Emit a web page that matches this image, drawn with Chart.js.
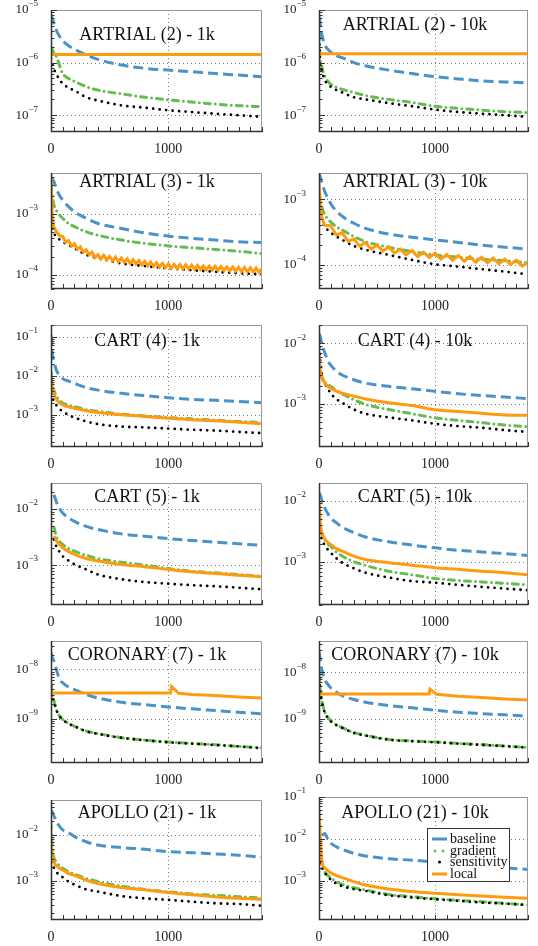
<!DOCTYPE html>
<html>
<head>
<meta charset="utf-8">
<script src="https://cdn.jsdelivr.net/npm/chart.js@4.4.1/dist/chart.umd.min.js"></script>
<style>
  body { margin: 0; background: #fff; width: 538px; height: 946px; position: relative; overflow: hidden; }
  canvas { position: absolute; }
</style>
</head>
<body>
<script>
const iters = [0, 10, 25, 50, 75, 100, 150, 200, 300, 400, 600, 800, 1000, 1200, 1400, 1600, 1800];
const flatIters = [0, 1800];
const sawIters25 = [0, 10, 25, 50, 75, 100, 125, 150, 175, 200, 225, 250, 275, 300, 325, 350, 375, 400,
  425, 450, 475, 500, 525, 550, 575, 600, 625, 650, 675, 700, 725, 750, 775, 800, 825, 850, 875, 900,
  925, 950, 975, 1000, 1025, 1050, 1075, 1100, 1125, 1150, 1175, 1200, 1225, 1250, 1275, 1300, 1325,
  1350, 1375, 1400, 1425, 1450, 1475, 1500, 1525, 1550, 1575, 1600, 1625, 1650, 1675, 1700, 1725,
  1750, 1775, 1800];
const sawIters50 = [0, 10, 25, 50, 100, 150, 200, 250, 300, 350, 400, 450, 500, 550, 600, 650, 700, 750,
  800, 850, 900, 950, 1000, 1050, 1100, 1150, 1200, 1250, 1300, 1350, 1400, 1450, 1500, 1550, 1600,
  1650, 1700, 1750, 1800];

// ARTRIAL (2)
const artrial2_1k_baseline = [8.1e-6, 6.8e-6, 5.6e-6, 3.9e-6, 3.1e-6, 2.6e-6, 2.1e-6, 1.8e-6, 1.4e-6, 1.15e-6, 9.0e-7, 7.8e-7, 7.2e-7, 6.7e-7, 6.2e-7, 5.8e-7, 5.4e-7];
const artrial2_1k_gradient = [2.0e-6, 1.8e-6, 1.5e-6, 1.25e-6, 8.5e-7, 6.2e-7, 5.0e-7, 4.4e-7, 3.5e-7, 3.0e-7, 2.55e-7, 2.2e-7, 1.97e-7, 1.78e-7, 1.63e-7, 1.52e-7, 1.45e-7];
const artrial2_1k_sensitivity = [1.2e-6, 9.5e-7, 7.5e-7, 5.8e-7, 4.6e-7, 4.0e-7, 3.3e-7, 2.95e-7, 2.2e-7, 1.9e-7, 1.54e-7, 1.39e-7, 1.24e-7, 1.15e-7, 1.07e-7, 1.0e-7, 9.3e-8];
const artrial2_1k_local = [1.43e-6, 1.43e-6];

const artrial2_10k_baseline = [7.5e-6, 5.5e-6, 3.4e-6, 2.2e-6, 1.8e-6, 1.6e-6, 1.35e-6, 1.24e-6, 1.0e-6, 8.7e-7, 7.2e-7, 6.2e-7, 5.4e-7, 4.9e-7, 4.5e-7, 4.3e-7, 4.1e-7];
const artrial2_10k_gradient = [3.5e-6, 1.15e-6, 8.0e-7, 5.6e-7, 4.5e-7, 3.9e-7, 3.4e-7, 3.1e-7, 2.7e-7, 2.37e-7, 2.0e-7, 1.75e-7, 1.48e-7, 1.35e-7, 1.25e-7, 1.17e-7, 1.12e-7];
const artrial2_10k_sensitivity = [3.0e-6, 1.0e-6, 7.0e-7, 4.6e-7, 4.0e-7, 3.5e-7, 3.0e-7, 2.7e-7, 2.2e-7, 2.0e-7, 1.7e-7, 1.48e-7, 1.28e-7, 1.15e-7, 1.07e-7, 1.0e-7, 9.3e-8];
const artrial2_10k_local = [1.48e-6, 1.48e-6];

// ARTRIAL (3)
const artrial3_1k_baseline = [3.9e-3, 3.8e-3, 3.4e-3, 2.5e-3, 1.97e-3, 1.7e-3, 1.32e-3, 1.09e-3, 8.5e-4, 7.0e-4, 5.8e-4, 4.9e-4, 4.35e-4, 4.0e-4, 3.75e-4, 3.5e-4, 3.4e-4];
const artrial3_1k_gradient = [3.0e-3, 2.0e-3, 1.4e-3, 1.1e-3, 9.5e-4, 8.5e-4, 7.0e-4, 6.2e-4, 5.1e-4, 4.5e-4, 3.75e-4, 3.3e-4, 3.0e-4, 2.8e-4, 2.63e-4, 2.45e-4, 2.25e-4];
const artrial3_1k_sensitivity = [1.2e-3, 7.0e-4, 5.0e-4, 4.1e-4, 3.8e-4, 3.5e-4, 3.1e-4, 2.75e-4, 2.15e-4, 1.9e-4, 1.55e-4, 1.4e-4, 1.29e-4, 1.2e-4, 1.13e-4, 1.07e-4, 1.03e-4];
const artrial3_1k_local = [4.5e-3, 1.0e-3, 6.0e-4, 5.0e-4, 4.4e-4, 4.3e-4, 3.44e-4, 3.67e-4, 2.98e-4, 3.24e-4,
  2.64e-4, 2.89e-4, 2.36e-4, 2.59e-4, 2.14e-4, 2.37e-4, 1.94e-4, 2.16e-4, 1.83e-4, 2.1e-4, 1.77e-4,
  2.02e-4, 1.71e-4, 1.97e-4, 1.66e-4, 1.9e-4, 1.61e-4, 1.84e-4, 1.56e-4, 1.78e-4, 1.52e-4, 1.73e-4,
  1.47e-4, 1.67e-4, 1.42e-4, 1.63e-4, 1.39e-4, 1.59e-4, 1.35e-4, 1.56e-4, 1.32e-4, 1.51e-4, 1.29e-4,
  1.5e-4, 1.28e-4, 1.48e-4, 1.26e-4, 1.47e-4, 1.26e-4, 1.45e-4, 1.24e-4, 1.44e-4, 1.23e-4, 1.41e-4,
  1.22e-4, 1.4e-4, 1.21e-4, 1.39e-4, 1.19e-4, 1.38e-4, 1.18e-4, 1.36e-4, 1.17e-4, 1.35e-4, 1.16e-4,
  1.34e-4, 1.14e-4, 1.33e-4, 1.13e-4, 1.31e-4, 1.12e-4, 1.3e-4, 1.11e-4, 1.27e-4];

const artrial3_10k_baseline = [2.5e-3, 2.2e-3, 1.8e-3, 1.3e-3, 1.05e-3, 8.6e-4, 6.6e-4, 5.5e-4, 4.3e-4, 3.6e-4, 2.95e-4, 2.63e-4, 2.4e-4, 2.2e-4, 2.0e-4, 1.86e-4, 1.74e-4];
const artrial3_10k_gradient = [1.3e-3, 1.0e-3, 7.5e-4, 5.8e-4, 5.0e-4, 4.5e-4, 3.8e-4, 3.4e-4, 2.7e-4, 2.26e-4, 1.86e-4, 1.6e-4, 1.42e-4, 1.31e-4, 1.22e-4, 1.16e-4, 1.08e-4];
const artrial3_10k_sensitivity = [8.0e-4, 6.5e-4, 5.2e-4, 3.8e-4, 3.4e-4, 3.1e-4, 2.7e-4, 2.4e-4, 1.94e-4, 1.7e-4, 1.42e-4, 1.19e-4, 1.02e-4, 9.4e-5, 8.6e-5, 7.9e-5, 7.2e-5];
const artrial3_10k_local = [1.75e-3, 9.0e-4, 5.2e-4, 4.0e-4, 3.96e-4, 2.85e-4, 3.08e-4, 2.3e-4, 2.48e-4,
  1.93e-4, 2.2e-4, 1.75e-4, 2.0e-4, 1.62e-4, 1.87e-4, 1.51e-4, 1.74e-4, 1.42e-4, 1.65e-4, 1.34e-4,
  1.56e-4, 1.29e-4, 1.5e-4, 1.23e-4, 1.44e-4, 1.18e-4, 1.39e-4, 1.14e-4, 1.34e-4, 1.1e-4, 1.31e-4,
  1.08e-4, 1.27e-4, 1.04e-4, 1.23e-4, 1.01e-4, 1.18e-4, 9.6e-5, 1.1e-4];

// CART (4)
const cart4_1k_baseline = [1.1e-1, 4.0e-2, 2.3e-2, 1.3e-2, 1.04e-2, 8.5e-3, 7.3e-3, 6.4e-3, 5.0e-3, 4.3e-3, 3.55e-3, 3.1e-3, 2.75e-3, 2.5e-3, 2.35e-3, 2.2e-3, 2.05e-3];
const cart4_1k_gradient = [1.26e-2, 6.5e-3, 4.2e-3, 2.9e-3, 2.3e-3, 2.0e-3, 1.75e-3, 1.63e-3, 1.35e-3, 1.23e-3, 1.04e-3, 9.4e-4, 8.5e-4, 7.9e-4, 7.3e-4, 6.8e-4, 6.3e-4];
const cart4_1k_sensitivity = [5.2e-3, 3.0e-3, 2.2e-3, 1.7e-3, 1.4e-3, 1.23e-3, 9.8e-4, 8.5e-4, 6.8e-4, 5.8e-4, 5.0e-4, 4.75e-4, 4.45e-4, 4.15e-4, 3.95e-4, 3.65e-4, 3.4e-4];
const cart4_1k_local = [1.15e-2, 5.5e-3, 3.5e-3, 2.4e-3, 2.0e-3, 1.8e-3, 1.6e-3, 1.48e-3, 1.27e-3, 1.15e-3, 1.0e-3, 9.1e-4, 8.2e-4, 7.5e-4, 7.1e-4, 6.5e-4, 5.9e-4];

const cart4_10k_baseline = [1.45e-2, 1.3e-2, 9.5e-3, 7.0e-3, 5.2e-3, 4.4e-3, 3.45e-3, 3.0e-3, 2.5e-3, 2.2e-3, 1.95e-3, 1.78e-3, 1.61e-3, 1.47e-3, 1.38e-3, 1.3e-3, 1.22e-3];
const cart4_10k_gradient = [6.0e-3, 4.0e-3, 2.8e-3, 2.3e-3, 2.1e-3, 1.95e-3, 1.65e-3, 1.46e-3, 1.18e-3, 9.8e-4, 8.1e-4, 6.9e-4, 5.9e-4, 5.35e-4, 4.9e-4, 4.5e-4, 4.2e-4];
const cart4_10k_sensitivity = [1.1e-2, 5.5e-3, 3.0e-3, 2.2e-3, 1.8e-3, 1.5e-3, 1.2e-3, 1.04e-3, 8.1e-4, 6.9e-4, 6.0e-4, 5.35e-4, 4.7e-4, 4.3e-4, 4.05e-4, 3.7e-4, 3.45e-4];
const cart4_10k_local = [5.5e-3, 3.5e-3, 2.7e-3, 2.2e-3, 1.95e-3, 1.83e-3, 1.62e-3, 1.5e-3, 1.34e-3, 1.21e-3, 1.05e-3, 9.4e-4, 8.0e-4, 7.5e-4, 7.0e-4, 6.6e-4, 6.5e-4];

// CART (5)
const cart5_1k_baseline = [null, null, 1.8e-2, 1.28e-2, 1.0e-2, 8.5e-3, 6.9e-3, 6.0e-3, 4.9e-3, 4.3e-3, 3.6e-3, 3.27e-3, 2.97e-3, 2.75e-3, 2.57e-3, 2.4e-3, 2.24e-3];
const cart5_1k_gradient = [null, null, 4.7e-3, 3.05e-3, 2.6e-3, 2.33e-3, 1.98e-3, 1.77e-3, 1.5e-3, 1.31e-3, 1.13e-3, 1.0e-3, 8.7e-4, 7.8e-4, 7.3e-4, 6.8e-4, 6.3e-4];
const cart5_1k_sensitivity = [null, null, 2.86e-3, 2.04e-3, 1.7e-3, 1.44e-3, 1.2e-3, 1.03e-3, 8.4e-4, 6.8e-4, 5.6e-4, 5.0e-4, 4.67e-4, 4.4e-4, 4.2e-4, 3.96e-4, 3.7e-4];
const cart5_1k_local = [null, null, 3.3e-3, 2.67e-3, 2.3e-3, 2.04e-3, 1.75e-3, 1.55e-3, 1.31e-3, 1.18e-3, 1.03e-3, 9.4e-4, 8.4e-4, 7.6e-4, 7.1e-4, 6.6e-4, 6.2e-4];

const cart5_10k_baseline = [1.33e-2, 1.25e-2, 1.0e-2, 7.5e-3, 6.2e-3, 5.2e-3, 4.35e-3, 3.7e-3, 3.0e-3, 2.55e-3, 2.14e-3, 1.89e-3, 1.7e-3, 1.55e-3, 1.46e-3, 1.37e-3, 1.28e-3];
const cart5_10k_gradient = [6.0e-3, 4.0e-3, 2.9e-3, 2.3e-3, 2.0e-3, 1.82e-3, 1.45e-3, 1.25e-3, 1.01e-3, 8.8e-4, 7.1e-4, 6.2e-4, 5.4e-4, 5.0e-4, 4.75e-4, 4.5e-4, 4.25e-4];
const cart5_10k_sensitivity = [6.5e-3, 3.5e-3, 2.3e-3, 1.9e-3, 1.6e-3, 1.42e-3, 1.15e-3, 9.75e-4, 7.9e-4, 6.7e-4, 5.6e-4, 4.9e-4, 4.6e-4, 4.25e-4, 3.94e-4, 3.7e-4, 3.47e-4];
const cart5_10k_local = [1.1e-2, 4.5e-3, 3.0e-3, 2.4e-3, 2.1e-3, 1.94e-3, 1.65e-3, 1.5e-3, 1.25e-3, 1.1e-3, 9.75e-4, 8.9e-4, 8.1e-4, 7.6e-4, 7.1e-4, 6.7e-4, 6.2e-4];

// CORONARY (7)
const coronary7_1k_baseline = [2.2e-8, 1.8e-8, 1.48e-8, 9.2e-9, 6.2e-9, 5.35e-9, 4.4e-9, 3.9e-9, 3.1e-9, 2.63e-9, 2.15e-9, 1.93e-9, 1.73e-9, 1.58e-9, 1.46e-9, 1.35e-9, 1.25e-9];
const coronary7_1k_gradient = [5.0e-9, 3.2e-9, 2.3e-9, 1.45e-9, 1.12e-9, 9.6e-10, 8.0e-10, 7.0e-10, 5.6e-10, 4.95e-10, 4.1e-10, 3.65e-10, 3.35e-10, 3.12e-10, 2.95e-10, 2.72e-10, 2.55e-10];
const coronary7_1k_sensitivity = [4.5e-9, 3.0e-9, 2.2e-9, 1.41e-9, 1.1e-9, 9.5e-10, 7.9e-10, 7.0e-10, 5.5e-10, 4.9e-10, 4.07e-10, 3.63e-10, 3.3e-10, 3.09e-10, 2.9e-10, 2.72e-10, 2.5e-10];
const coronary7_1k_localIters = [0, 1020, 1028, 1090, 1200, 1400, 1600, 1800];
const coronary7_1k_local = [3.34e-9, 3.34e-9, 4.5e-9, 3.28e-9, 3.1e-9, 2.95e-9, 2.77e-9, 2.64e-9];

const coronary7_10k_baseline = [2.8e-8, 2.0e-8, 1.14e-8, 6.9e-9, 5.5e-9, 4.6e-9, 3.7e-9, 3.13e-9, 2.57e-9, 2.25e-9, 1.9e-9, 1.7e-9, 1.51e-9, 1.37e-9, 1.28e-9, 1.2e-9, 1.12e-9];
const coronary7_10k_gradient = [1.1e-8, 4.2e-9, 2.4e-9, 1.38e-9, 1.08e-9, 9.0e-10, 7.4e-10, 6.4e-10, 5.0e-10, 4.35e-10, 3.55e-10, 3.3e-10, 3.12e-10, 2.9e-10, 2.75e-10, 2.55e-10, 2.38e-10];
const coronary7_10k_sensitivity = [1.0e-8, 4.0e-9, 2.3e-9, 1.33e-9, 1.05e-9, 8.75e-10, 7.2e-10, 6.3e-10, 4.9e-10, 4.3e-10, 3.5e-10, 3.24e-10, 3.09e-10, 2.88e-10, 2.7e-10, 2.53e-10, 2.35e-10];
const coronary7_10k_localIters = [0, 948, 956, 1012, 1200, 1400, 1600, 1800];
const coronary7_10k_local = [3.4e-9, 3.4e-9, 4.3e-9, 3.35e-9, 3.03e-9, 2.84e-9, 2.65e-9, 2.5e-9];

// APOLLO (21)
const apollo21_1k_baseline = [3.5e-2, 3.2e-2, 2.6e-2, 1.9e-2, 1.5e-2, 1.29e-2, 1.12e-2, 9.2e-3, 7.1e-3, 6.0e-3, 5.3e-3, 4.85e-3, 4.3e-3, 4.1e-3, 3.84e-3, 3.6e-3, 3.24e-3];
const apollo21_1k_gradient = [1.8e-2, 5.5e-3, 3.2e-3, 2.5e-3, 2.1e-3, 1.86e-3, 1.55e-3, 1.38e-3, 1.12e-3, 9.5e-4, 7.6e-4, 6.45e-4, 5.75e-4, 5.1e-4, 4.8e-4, 4.47e-4, 4.17e-4];
const apollo21_1k_sensitivity = [3.6e-3, 2.3e-3, 1.9e-3, 1.5e-3, 1.3e-3, 1.18e-3, 9.5e-4, 8.2e-4, 6.45e-4, 5.75e-4, 4.6e-4, 4.1e-4, 3.8e-4, 3.47e-4, 3.2e-4, 3.09e-4, 2.83e-4];
const apollo21_1k_local = [7.8e-3, 3.4e-3, 2.5e-3, 2.1e-3, 1.85e-3, 1.71e-3, 1.42e-3, 1.3e-3, 1.03e-3, 8.7e-4, 7.1e-4, 6.3e-4, 5.5e-4, 4.9e-4, 4.47e-4, 4.1e-4, 3.9e-4];

const apollo21_10k_baseline = [null, null, 1.2e-2, 1.35e-2, 1.0e-2, 8.0e-3, 6.45e-3, 5.6e-3, 4.5e-3, 3.9e-3, 3.34e-3, 3.1e-3, 2.78e-3, 2.45e-3, 2.24e-3, 2.04e-3, 1.86e-3];
const apollo21_10k_gradient = [3.5e-3, 2.6e-3, 2.0e-3, 1.6e-3, 1.35e-3, 1.18e-3, 9.5e-4, 8.2e-4, 6.8e-4, 6.0e-4, 4.7e-4, 4.15e-4, 3.7e-4, 3.4e-4, 3.15e-4, 2.88e-4, 2.65e-4];
const apollo21_10k_sensitivity = [3.9e-3, 2.8e-3, 2.1e-3, 1.55e-3, 1.25e-3, 1.07e-3, 8.5e-4, 7.4e-4, 6.3e-4, 5.7e-4, 4.5e-4, 3.96e-4, 3.6e-4, 3.3e-4, 3.0e-4, 2.84e-4, 2.6e-4];
const apollo21_10k_local = [5.0e-2, 1.2e-2, 3.0e-3, 2.04e-3, 1.75e-3, 1.55e-3, 1.33e-3, 1.18e-3, 9.5e-4, 7.9e-4, 6.3e-4, 5.5e-4, 5.0e-4, 4.6e-4, 4.3e-4, 4.0e-4, 3.8e-4];

const seriesNames = ['baseline', 'gradient', 'sensitivity', 'local'];

const panels = [
  { title: 'ARTRIAL (2) - 1k', col: 0, top: 10, bottom: 132, min: 4.8e-8, max: 1e-5, titleY: 35,
    baseline: artrial2_1k_baseline, gradient: artrial2_1k_gradient, sensitivity: artrial2_1k_sensitivity, local: artrial2_1k_local, localIters: flatIters },
  { title: 'ARTRIAL (2) - 10k', col: 1, top: 10, bottom: 132, min: 4.8e-8, max: 1e-5, titleY: 25,
    baseline: artrial2_10k_baseline, gradient: artrial2_10k_gradient, sensitivity: artrial2_10k_sensitivity, local: artrial2_10k_local, localIters: flatIters },
  { title: 'ARTRIAL (3) - 1k', col: 0, top: 173, bottom: 289, min: 5.9e-5, max: 4.7e-3, titleY: 182,
    baseline: artrial3_1k_baseline, gradient: artrial3_1k_gradient, sensitivity: artrial3_1k_sensitivity, local: artrial3_1k_local, localIters: sawIters25 },
  { title: 'ARTRIAL (3) - 10k', col: 1, top: 173, bottom: 289, min: 4.3e-5, max: 2.5e-3, titleY: 182,
    baseline: artrial3_10k_baseline, gradient: artrial3_10k_gradient, sensitivity: artrial3_10k_sensitivity, local: artrial3_10k_local, localIters: sawIters50 },
  { title: 'CART (4) - 1k', col: 0, top: 325, bottom: 447, min: 1.5e-4, max: 0.2, titleY: 341,
    baseline: cart4_1k_baseline, gradient: cart4_1k_gradient, sensitivity: cart4_1k_sensitivity, local: cart4_1k_local },
  { title: 'CART (4) - 10k', col: 1, top: 325, bottom: 447, min: 1.95e-4, max: 2e-2, titleY: 341,
    baseline: cart4_10k_baseline, gradient: cart4_10k_gradient, sensitivity: cart4_10k_sensitivity, local: cart4_10k_local },
  { title: 'CART (5) - 1k', col: 0, top: 483, bottom: 605, min: 1.95e-4, max: 2.9e-2, titleY: 497,
    baseline: cart5_1k_baseline, gradient: cart5_1k_gradient, sensitivity: cart5_1k_sensitivity, local: cart5_1k_local },
  { title: 'CART (5) - 10k', col: 1, top: 483, bottom: 605, min: 2.0e-4, max: 1.93e-2, titleY: 497,
    baseline: cart5_10k_baseline, gradient: cart5_10k_gradient, sensitivity: cart5_10k_sensitivity, local: cart5_10k_local },
  { title: 'CORONARY (7) - 1k', col: 0, top: 641, bottom: 763, min: 1.25e-10, max: 3.8e-8, titleY: 655,
    baseline: coronary7_1k_baseline, gradient: coronary7_1k_gradient, sensitivity: coronary7_1k_sensitivity, local: coronary7_1k_local, localIters: coronary7_1k_localIters },
  { title: 'CORONARY (7) - 10k', col: 1, top: 641, bottom: 763, min: 1.1e-10, max: 4.7e-8, titleY: 655,
    baseline: coronary7_10k_baseline, gradient: coronary7_10k_gradient, sensitivity: coronary7_10k_sensitivity, local: coronary7_10k_local, localIters: coronary7_10k_localIters },
  { title: 'APOLLO (21) - 1k', col: 0, top: 800, bottom: 920, min: 1.38e-4, max: 5.8e-2, titleY: 813,
    baseline: apollo21_1k_baseline, gradient: apollo21_1k_gradient, sensitivity: apollo21_1k_sensitivity, local: apollo21_1k_local },
  { title: 'APOLLO (21) - 10k', col: 1, top: 797, bottom: 920, min: 1.15e-4, max: 1e-1, titleY: 813, legend: true,
    baseline: apollo21_10k_baseline, gradient: apollo21_10k_gradient, sensitivity: apollo21_10k_sensitivity, local: apollo21_10k_local }
];

const FONT = '"Liberation Serif", "DejaVu Serif", "Times New Roman", serif';
const BLUE = '#4a93c9';
const GREEN = '#63bd4f';
const ORANGE = '#ff9b0f';
const BLACK = '#000000';

function pts(xs, ys) {
  return xs.map((x, i) => ({ x: x, y: ys[i] }));
}

function decades(min, max) {
  const out = [];
  for (let e = Math.floor(Math.log10(min)); e <= Math.ceil(Math.log10(max)); e++) {
    const v = Math.pow(10, e);
    if (v >= min * 0.999 && v <= max * 1.001) out.push(e);
  }
  return out;
}

function drawLegend(ctx, a) {
  const bx = a.left + 108, by = a.top + 31, bw = 83, bh = 54;
  ctx.save();
  ctx.fillStyle = '#fff';
  ctx.fillRect(bx, by, bw, bh);
  ctx.strokeStyle = '#333';
  ctx.lineWidth = 1;
  ctx.strokeRect(bx + 0.5, by + 0.5, bw - 1, bh - 1);
  const rows = [by + 11, by + 23, by + 34, by + 46];
  ctx.lineWidth = 3;
  ctx.strokeStyle = BLUE;
  ctx.beginPath(); ctx.moveTo(bx + 5, rows[0]); ctx.lineTo(bx + 20, rows[0]); ctx.stroke();
  ctx.fillStyle = GREEN;
  [bx + 8, bx + 16].forEach(cx => { ctx.beginPath(); ctx.arc(cx, rows[1], 1.5, 0, Math.PI * 2); ctx.fill(); });
  ctx.fillStyle = BLACK;
  ctx.beginPath(); ctx.arc(bx + 12.5, rows[2], 1.5, 0, Math.PI * 2); ctx.fill();
  ctx.strokeStyle = ORANGE;
  ctx.beginPath(); ctx.moveTo(bx + 5, rows[3]); ctx.lineTo(bx + 20, rows[3]); ctx.stroke();
  ctx.fillStyle = '#111';
  ctx.font = '14px ' + FONT;
  ctx.textAlign = 'left';
  ctx.textBaseline = 'middle';
  seriesNames.forEach((n, i) => ctx.fillText(n, bx + 23, rows[i]));
  ctx.restore();
}

function decor(p) {
  return {
    id: 'decor',
    beforeDatasetsDraw(chart) {
      const { ctx, chartArea: a, scales: { x, y } } = chart;
      ctx.save();
      ctx.strokeStyle = '#777';
      ctx.lineWidth = 1;
      ctx.setLineDash([1, 3]);
      ctx.beginPath();
      decades(p.min, p.max).forEach(e => {
        const py = Math.round(y.getPixelForValue(Math.pow(10, e))) + 0.5;
        ctx.moveTo(a.left, py); ctx.lineTo(a.right, py);
      });
      const px = Math.round(x.getPixelForValue(1000)) + 0.5;
      ctx.moveTo(px, a.top); ctx.lineTo(px, a.bottom);
      ctx.stroke();
      ctx.restore();
    },
    afterDatasetsDraw(chart) {
      const { ctx, chartArea: a, scales: { x, y } } = chart;
      ctx.save();
      // frame
      ctx.lineWidth = 1;
      ctx.strokeStyle = '#999';
      ctx.beginPath();
      ctx.moveTo(a.left, a.top + 0.5); ctx.lineTo(a.right - 0.5, a.top + 0.5); ctx.lineTo(a.right - 0.5, a.bottom);
      ctx.stroke();
      ctx.strokeStyle = '#333';
      ctx.lineWidth = 1.5;
      ctx.beginPath();
      ctx.moveTo(a.left + 0.5, a.top); ctx.lineTo(a.left + 0.5, a.bottom - 0.5); ctx.lineTo(a.right, a.bottom - 0.5);
      ctx.stroke();
      // inner ticks
      ctx.lineWidth = 1;
      ctx.beginPath();
      x.ticks.forEach(t => {
        const tx = Math.round(x.getPixelForValue(t.value)) + 0.5;
        ctx.moveTo(tx, a.bottom); ctx.lineTo(tx, a.bottom - 5);
      });
      for (let e = Math.floor(Math.log10(p.min)); e <= Math.ceil(Math.log10(p.max)); e++) {
        for (let m = 1; m <= 9; m++) {
          const v = m * Math.pow(10, e);
          if (v < p.min || v > p.max * 1.001) continue;
          const ty = Math.round(y.getPixelForValue(v)) + 0.5;
          ctx.moveTo(a.left, ty); ctx.lineTo(a.left + (m === 1 ? 6 : 3.5), ty);
        }
      }
      ctx.stroke();
      // y labels 10^e
      ctx.fillStyle = '#222';
      ctx.textBaseline = 'middle';
      ctx.textAlign = 'left';
      decades(p.min, p.max).forEach(e => {
        const ty = y.getPixelForValue(Math.pow(10, e));
        const ex = '\u2212' + Math.abs(e);
        ctx.font = '9px ' + FONT;
        const ew = ctx.measureText(ex).width;
        ctx.font = '13px ' + FONT;
        const bw = ctx.measureText('10').width;
        const right = a.left - 13;
        ctx.fillText('10', right - ew - bw, ty);
        ctx.font = '9px ' + FONT;
        ctx.fillText(ex, right - ew, ty - 6);
      });
      // title
      ctx.fillStyle = '#111';
      ctx.font = '18px ' + FONT;
      ctx.textAlign = 'center';
      ctx.fillText(p.title, a.left + 96, p.titleY - (p.top - 10));
      ctx.restore();
      if (p.legend) drawLegend(ctx, a);
    }
  };
}

panels.forEach(p => {
  const cv = document.createElement('canvas');
  const left = p.col * 268;
  const h = p.bottom - p.top + 36;
  cv.width = 268;
  cv.height = h;
  cv.style.left = left + 'px';
  cv.style.top = (p.top - 10) + 'px';
  cv.style.width = '268px';
  cv.style.height = h + 'px';
  document.body.appendChild(cv);

  const smooth = { cubicInterpolationMode: 'monotone' };
  const straight = { tension: 0 };
  new Chart(cv, {
    type: 'line',
    data: {
      datasets: [
        { label: 'baseline', data: pts(iters, p.baseline), borderColor: BLUE, borderWidth: 3,
          borderDash: [10, 5], order: 3, ...smooth },
        { label: 'gradient', data: pts(iters, p.gradient), borderColor: GREEN, borderWidth: 3,
          borderDash: [6, 5, 0, 5], borderCapStyle: 'round', order: 2, ...smooth },
        { label: 'sensitivity', data: pts(iters, p.sensitivity), borderColor: BLACK, borderWidth: 2.8,
          borderDash: [0, 6.5], borderCapStyle: 'round', order: 1, ...smooth },
        { label: 'local', data: pts(p.localIters || iters, p.local), borderColor: ORANGE, borderWidth: 3,
          order: 0, ...(p.localIters ? straight : smooth) }
      ]
    },
    options: {
      responsive: false,
      animation: false,
      events: [],
      elements: { point: { radius: 0 } },
      layout: { padding: { top: 10, left: 0, bottom: 0, right: p.col ? 8 : 6 } },
      plugins: { legend: { display: false }, tooltip: { enabled: false } },
      scales: {
        x: {
          type: 'linear', min: 0, max: 1800,
          grid: { display: false }, border: { display: false },
          ticks: {
            stepSize: 100, autoSkip: false, maxRotation: 0, padding: 1, color: '#222',
            font: { family: FONT, size: 14 },
            callback: v => (v === 0 || v === 1000) ? String(v) : ''
          },
          afterFit: s => { s.height = 26; }
        },
        y: {
          type: 'logarithmic', min: p.min, max: p.max,
          grid: { display: false }, border: { display: false },
          ticks: { display: false },
          afterFit: s => { s.width = 51; }
        }
      }
    },
    plugins: [decor(p)]
  });
});
</script>
</body>
</html>
